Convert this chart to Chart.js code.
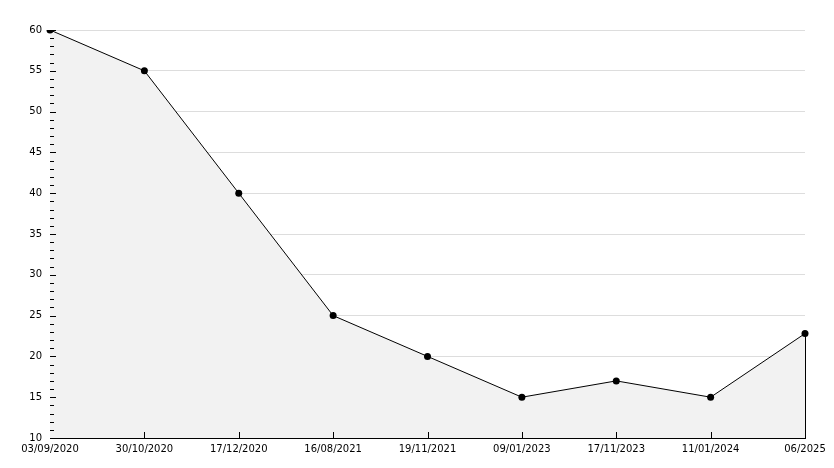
<!DOCTYPE html>
<html><head><meta charset="utf-8">
<script src="https://cdn.jsdelivr.net/npm/chart.js@4"></script>
<style>html,body{margin:0;padding:0;background:#fff}#w{width:834px;height:468px}</style>
</head><body><div id="w"><canvas id="c" width="834" height="468"></canvas></div>
<script>
const categories = ["03/09/2020","30/10/2020","17/12/2020","16/08/2021","19/11/2021","09/01/2023","17/11/2023","11/01/2024","06/2025"];
const values = [60, 55, 40, 25, 20, 15, 17, 15, 22.8];
const yMin = 10, yMax = 60, yStep = 5, yMinorStep = 1;

const tickPlugin = {
  id: 'inTicks',
  afterDatasetsDraw(chart) {
    const ctx = chart.ctx, ca = chart.chartArea;
    const ys = chart.scales.y, xs = chart.scales.x;
    ctx.save();
    ctx.strokeStyle = '#000'; ctx.lineWidth = 1;
    // closing edge of the area at the last point
    const meta = chart.getDatasetMeta(0);
    const last = meta.data[meta.data.length - 1];
    ctx.beginPath();
    ctx.moveTo(Math.round(last.x) + 0.5, last.y);
    ctx.lineTo(Math.round(last.x) + 0.5, ca.bottom);
    ctx.stroke();
    ctx.beginPath();
    for (let v = yMin; v <= yMax; v += yMinorStep) {
      const y = Math.round(ys.getPixelForValue(v)) + 0.5;
      const len = (v % yStep === 0) ? 6 : 4;
      ctx.moveTo(ca.left, y); ctx.lineTo(ca.left + len, y);
    }
    for (let i = 1; i < categories.length - 1; i++) {
      const x = Math.round(xs.getPixelForValue(i)) + 0.5;
      ctx.moveTo(x, ca.bottom); ctx.lineTo(x, ca.bottom - 6);
    }
    ctx.stroke();
    ctx.restore();
  }
};

new Chart(document.getElementById('c'), {
  type: 'line',
  data: {
    labels: categories,
    datasets: [{
      data: values,
      borderColor: '#000',
      borderWidth: 1,
      backgroundColor: '#f2f2f2',
      fill: 'start',
      tension: 0,
      pointRadius: 3.5,
      pointBackgroundColor: '#000',
      pointBorderColor: '#000',
      pointBorderWidth: 0
    }]
  },
  options: {
    responsive: false,
    animation: false,
    devicePixelRatio: 1,
    layout: { padding: { top: 30, right: 29, left: 0, bottom: 0 } },
    plugins: { legend: { display: false }, tooltip: { enabled: false } },
    scales: {
      x: {
        type: 'category',
        offset: false,
        grid: { display: false, drawTicks: false },
        border: { display: true, color: '#000', width: 1 },
        ticks: {
          autoSkip: false, maxRotation: 0, minRotation: 0, padding: 5,
          color: '#000', font: { family: 'DejaVu Sans', size: 10 }
        },
        afterFit(s) { s.height = 30; }
      },
      y: {
        min: yMin, max: yMax,
        grid: { color: '#dddddd', drawTicks: false },
        border: { display: true, color: '#000', width: 1 },
        ticks: {
          stepSize: yStep, padding: 8,
          color: '#000', font: { family: 'DejaVu Sans', size: 10 }
        },
        afterFit(s) { s.width = 50; }
      }
    }
  },
  plugins: [tickPlugin]
});
</script>
</body></html>
